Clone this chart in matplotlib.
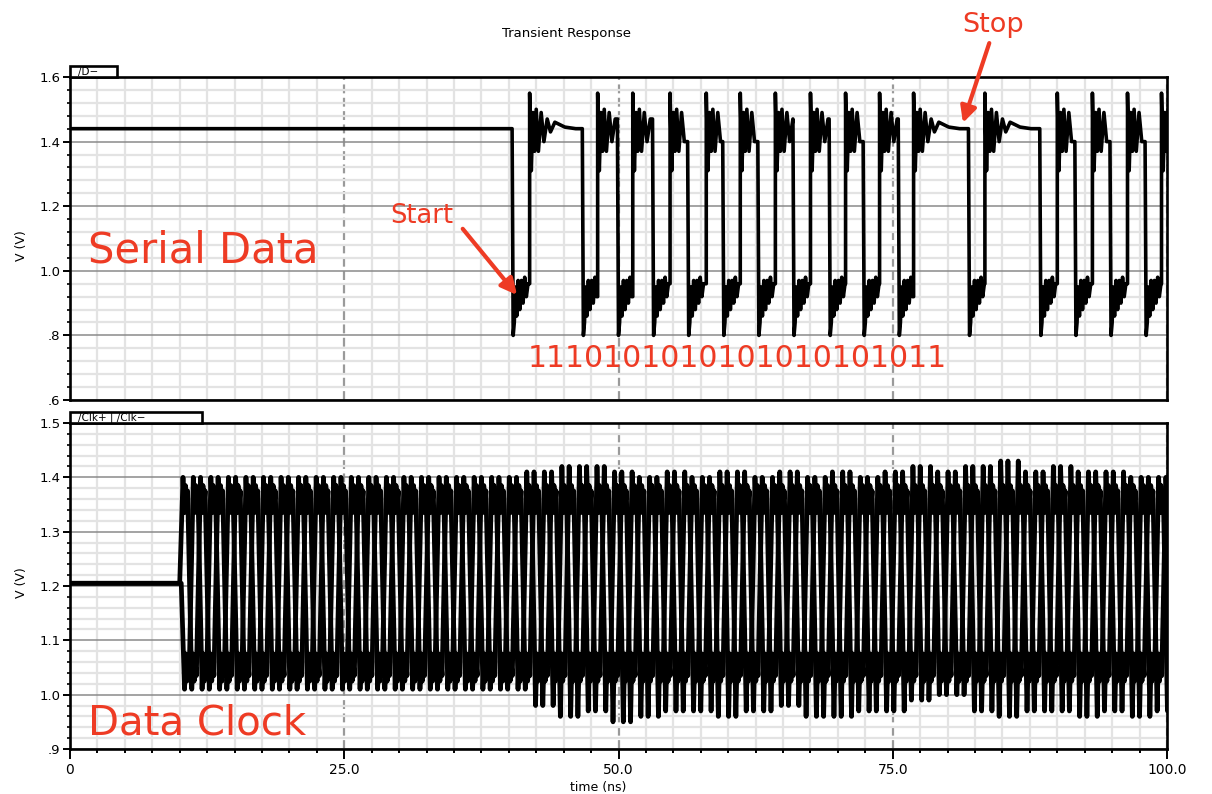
import numpy as np
import matplotlib.pyplot as plt
from matplotlib.patches import Rectangle
from matplotlib.ticker import MultipleLocator

RED = '#ee3b24'

# serial data /D- : idle level and the low pulses (fall, rise), ns
d_idle = 1.44
low_fall_ns = [40.3, 46.7, 49.9, 53.1, 56.3, 59.5, 62.7, 65.9, 69.2, 72.3, 75.5,
               81.9, 88.4, 91.6, 94.8, 98.0]
low_rise_ns = [41.9, 48.1, 51.3, 54.7, 58.0, 61.1, 64.3, 67.5, 70.7, 73.8, 76.9,
               83.4, 90.0, 93.2, 96.4, 99.5]
# ringing after a rising / falling edge (offset ns, volts), read from the first frame
hi_ring_dt = [0.0, 0.15, 0.30, 0.45, 0.60, 0.80, 1.05, 1.30, 1.60, 1.90, 2.30, 3.20, 4.20]
hi_ring_v = [1.55, 1.31, 1.49, 1.37, 1.50, 1.37, 1.49, 1.40, 1.47, 1.43, 1.46, 1.445, 1.44]
lo_ring_dt = [0.10, 0.20, 0.30, 0.42, 0.55, 0.70, 0.85, 1.00, 1.15, 1.30, 1.45]
lo_ring_v = [0.80, 0.84, 0.95, 0.86, 0.97, 0.88, 0.97, 0.90, 0.98, 0.92, 0.96]

# clock /Clk+ /Clk-
clk_idle = 1.205
clk_start_ns = 10.0
clk_half_ns = 0.8
clk_edge_ns = 0.3
clk_skew_ns = 0.14
clk_bin_ns = 2.5
# peak / trough per 2.5 ns, 10 .. 100 ns
clk_hi = [1.40, 1.40, 1.40, 1.40, 1.40, 1.40, 1.40, 1.40, 1.40, 1.40, 1.40, 1.40, 1.40,
          1.41, 1.42, 1.42, 1.41, 1.40, 1.41, 1.40, 1.41, 1.40, 1.41, 1.40, 1.41, 1.40,
          1.41, 1.42, 1.41, 1.42, 1.43, 1.41, 1.42, 1.41, 1.41, 1.40, 1.40]
clk_lo = [1.01, 1.01, 1.01, 1.01, 1.01, 1.01, 1.01, 1.01, 1.01, 1.01, 1.01, 1.01, 1.01,
          0.98, 0.96, 0.97, 0.95, 0.96, 0.97, 0.97, 0.96, 0.97, 0.98, 0.96, 0.96, 0.97,
          0.97, 0.99, 1.00, 0.97, 0.96, 0.97, 0.97, 0.96, 0.97, 0.96, 0.97]
clk_ring_dt = [0.42, 0.52, 0.62, 0.72]
clk_hi_ring = [1.335, 1.385, 1.35, 1.375]
clk_lo_ring = [1.075, 1.025, 1.06, 1.035]

bits_label = '1110101010101010101011'
x_ticks = [0, 25, 50, 75, 100]
x_ticklabels = ['0', '25.0', '50.0', '75.0', '100.0']
top_yticks = [0.6, 0.8, 1.0, 1.2, 1.4, 1.6]
top_yticklabels = ['.6', '.8', '1.0', '1.2', '1.4', '1.6']
bot_yticks = [0.9, 1.0, 1.1, 1.2, 1.3, 1.4, 1.5]
bot_yticklabels = ['.9', '1.0', '1.1', '1.2', '1.3', '1.4', '1.5']


def build_serial():
    t, v = [0.0], [d_idle]
    level = d_idle
    for i, (tf, tr) in enumerate(zip(low_fall_ns, low_rise_ns)):
        t.append(tf); v.append(level)
        for dt, val in zip(lo_ring_dt, lo_ring_v):
            if tf + dt < tr:
                t.append(tf + dt); v.append(val)
        level = v[-1]
        t.append(tr); v.append(level)
        t_end = low_fall_ns[i + 1] if i + 1 < len(low_fall_ns) else 100.5
        for dt, val in zip(hi_ring_dt, hi_ring_v):
            if tr + dt < t_end:
                t.append(tr + dt); v.append(val)
        level = v[-1]
    t.append(100.5); v.append(level)
    return t, v


def build_clock(phase, skew):
    t0 = clk_start_ns + skew
    t, v = [0.0, t0], [clk_idle, clk_idle]
    n_half = int(round((100 - clk_start_ns) / clk_half_ns)) + 1
    for k in range(n_half):
        te = t0 + k * clk_half_ns
        b = min(int(round((te - clk_start_ns) / clk_bin_ns)), len(clk_hi) - 1)
        high = (k + phase) % 2 == 0
        t.append(te + clk_edge_ns)
        v.append(clk_hi[b] if high else clk_lo[b])
        for dt, val in zip(clk_ring_dt, clk_hi_ring if high else clk_lo_ring):
            t.append(te + dt); v.append(val)
    return t, v


def style_axes(ax, yticks, ylabels, ymin, ymax, ymin_step):
    ax.set_xlim(0, 100)
    ax.set_ylim(ymin, ymax)
    ax.set_xticks(x_ticks)
    ax.xaxis.set_minor_locator(MultipleLocator(2.5))
    ax.set_yticks(yticks)
    ax.set_yticklabels(ylabels, fontsize=9.5)
    ax.yaxis.set_minor_locator(MultipleLocator(ymin_step))
    ax.set_axisbelow(True)
    ax.grid(which='minor', color='#e3e3e3', lw=1.6)
    ax.grid(which='major', axis='y', color='#8a8a8a', lw=1.1)
    ax.grid(which='major', axis='x', color='#9a9a9a', lw=1.6, ls=(0, (4, 2)))
    for s in ax.spines.values():
        s.set_linewidth(1.9)
    ax.tick_params(axis='y', which='major', direction='out', length=5, width=1.4, pad=2)
    ax.tick_params(axis='y', which='minor', direction='out', length=2.5, width=1.2)


fig = plt.figure(figsize=(12.12, 7.94), dpi=100)
ax1 = fig.add_axes([70 / 1212, 1 - 400 / 794, 1097 / 1212, 323 / 794])
ax2 = fig.add_axes([70 / 1212, 1 - 749 / 794, 1097 / 1212, 326 / 794])

# top: serial data
ts, vs = build_serial()
ax1.plot(ts, vs, color='black', lw=2.6)
style_axes(ax1, top_yticks, top_yticklabels, 0.6, 1.6, 0.04)
ax1.tick_params(axis='x', which='both', bottom=False, labelbottom=False)

# bottom: clock pair
for ph, sk in ((0, 0.0), (1, clk_skew_ns)):
    tc, vc = build_clock(ph, sk)
    ax2.plot(tc, vc, color='black', lw=3.4)
style_axes(ax2, bot_yticks, bot_yticklabels, 0.9, 1.5, 0.02)
ax2.set_xticklabels(x_ticklabels, fontsize=10)
ax2.tick_params(axis='x', which='major', direction='out', length=7, width=1.4, pad=3)
ax2.tick_params(axis='x', which='minor', direction='out', length=3, width=1.4)

# signal name tabs
for ax, w, h, label in ((ax1, 47 / 1097, 11 / 323, '/D\u2212'),
                        (ax2, 132 / 1097, 11 / 326, '/Clk+ | /Clk\u2212')):
    ax.add_patch(Rectangle((0, 1), w, h, transform=ax.transAxes, facecolor='white',
                           edgecolor='black', lw=1.9, clip_on=False, zorder=5))
    ax.text(0.007, 1 + h / 2, label, transform=ax.transAxes, fontsize=7.5, va='center',
            ha='left', zorder=6)

fig.text(567 / 1212, 1 - 33 / 794, 'Transient Response', fontsize=9.5, ha='center', va='center')
fig.text(598 / 1212, 1 - 787 / 794, 'time (ns)', fontsize=9, ha='center', va='center')
fig.text(21 / 1212, 1 - 246 / 794, 'V (V)', fontsize=9, rotation=90, ha='center', va='center')
fig.text(21 / 1212, 1 - 583 / 794, 'V (V)', fontsize=9, rotation=90, ha='center', va='center')

# red annotations
ax1.text(1.6, 1.027, 'Serial Data', color=RED, fontsize=30, va='baseline')
ax2.text(1.6, 0.927, 'Data Clock', color=RED, fontsize=29, va='baseline')
ax1.text(41.7, 0.702, bits_label, color=RED, fontsize=21.5, va='baseline')
ax1.text(29.2, 1.148, 'Start', color=RED, fontsize=18.5, va='baseline')
ax1.text(81.3, 1.739, 'Stop', color=RED, fontsize=19.5, va='baseline', clip_on=False)
ax1.annotate('', xy=(40.75, 0.925), xytext=(35.8, 1.13),
             arrowprops=dict(arrowstyle='-|>', color=RED, lw=3, mutation_scale=24,
                             shrinkA=0, shrinkB=0))
ax1.annotate('', xy=(81.4, 1.458), xytext=(83.8, 1.705), annotation_clip=False,
             arrowprops=dict(arrowstyle='-|>', color=RED, lw=3, mutation_scale=24,
                             shrinkA=0, shrinkB=0))

fig.savefig('out.png', dpi=100)
